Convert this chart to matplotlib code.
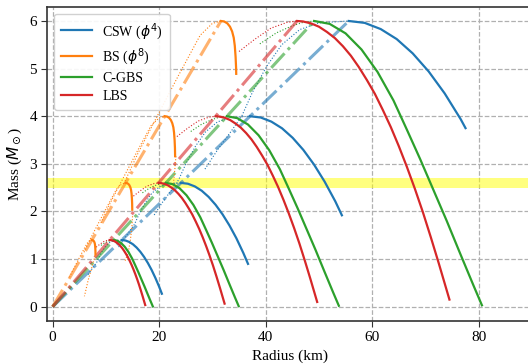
import numpy as np
import matplotlib
matplotlib.use('Agg')
import matplotlib.pyplot as plt

plt.rcParams['font.family'] = ['Liberation Serif', 'DejaVu Serif']
plt.rcParams['mathtext.fontset'] = 'dejavusans'

labels = ['CSW ($\\phi^4$)', 'BS ($\\phi^8$)', 'C-GBS', 'LBS']
colors = ['#1f77b4', '#ff7f0e', '#2ca02c', '#d62728']
mass_scales = [1.4, 2.6, 4.0, 6.0]

csw_R = [55.6, 58.6, 61.6, 64.6, 67.6, 70.6, 73.6, 76.6, 79.6, 82.6, 85.6, 88.0]
csw_M = [6.00, 5.96, 5.83, 5.62, 5.32, 4.94, 4.48, 3.94, 3.32, 2.61, 1.83, 1.14]
bs_R = [31.6, 32.2, 32.8, 33.3, 33.7, 34.0, 34.2, 34.35, 34.45, 34.5]
bs_M = [6.00, 5.99, 5.95, 5.88, 5.78, 5.65, 5.48, 5.25, 5.00, 4.70]
cgbs_R = [49.1, 52.0, 55.0, 58.0, 61.0, 64.0, 66.5, 69.0, 71.5, 74.0, 76.5, 79.0, 80.6]
cgbs_M = [6.00, 5.94, 5.74, 5.40, 4.93, 4.33, 3.72, 3.10, 2.45, 1.80, 1.12, 0.45, 0.03]
lbs_R = [45.9, 47.0, 48.5, 50.0, 51.5, 53.0, 54.5, 56.0, 57.5, 59.0, 60.5, 62.0,
         63.5, 65.0, 66.5, 68.0, 69.5, 71.0, 72.5, 74.5]
lbs_M = [6.00, 5.99, 5.95, 5.88, 5.77, 5.64, 5.47, 5.27, 5.03, 4.76, 4.47, 4.13,
         3.77, 3.37, 2.94, 2.48, 1.99, 1.46, 0.91, 0.15]
# lowest mass reached by each stable branch, as a fraction of its maximum
csw_end = [0.195, 0.346, 0.48, 0.625]
bs_end = [0.78, 0.73, 0.79, 0.815]
cgbs_end = [0.0, 0.0, 0.0, 0.0]
lbs_end = [0.0, 0.0, 0.0, 0.0]

# Thin dotted branches on the small-radius side of the peak (6 Msun family)
csw_dR = [28.6, 31.0, 33.3, 35.5, 37.5, 40.2, 43.0, 46.4, 50.0, 55.6]
csw_dM = [2.89, 3.30, 3.65, 4.00, 4.50, 5.05, 5.50, 5.82, 5.96, 6.00]
bs_dR = [13.6, 16.1, 20.0, 23.6, 27.7, 30.0, 31.6]
bs_dM = [2.64, 3.24, 4.08, 4.85, 5.70, 5.95, 6.00]
cgbs_dR = [38.9, 42.0, 45.0, 47.0, 49.1]
cgbs_dM = [5.52, 5.75, 5.90, 5.97, 6.00]
lbs_dR = [35.0, 38.0, 41.0, 44.0, 45.9]
lbs_dM = [5.36, 5.62, 5.85, 5.97, 6.00]

# Thin dotted tails below the ends of the BS branches (1.4, 2.6, 4.0 Msun)
bs_tail14_R = [7.98, 7.35, 6.7, 5.97]
bs_tail14_M = [1.07, 0.82, 0.57, 0.22]
bs_tail26_R = [15.0, 14.9, 14.6, 14.2, 13.6]
bs_tail26_M = [1.90, 1.70, 1.40, 1.14, 0.96]
bs_tail40_R = [23.15, 23.0, 22.8, 22.6]
bs_tail40_M = [3.16, 2.95, 2.72, 2.50]

stable = [(csw_R, csw_M, csw_end), (bs_R, bs_M, bs_end),
          (cgbs_R, cgbs_M, cgbs_end), (lbs_R, lbs_M, lbs_end)]
dotted = [(csw_dR, csw_dM), (bs_dR, bs_dM), (cgbs_dR, cgbs_dM), (lbs_dR, lbs_dM)]
tails = [(bs_tail14_R, bs_tail14_M), (bs_tail26_R, bs_tail26_M),
         (bs_tail40_R, bs_tail40_M)]

fig = plt.figure(figsize=(5.28, 3.64), dpi=100)
ax = fig.add_axes([47.3 / 528, 43.0 / 364, (532.0 - 47.3) / 528, (357.3 - 43.0) / 364])

ax.axhspan(2.5, 2.7, color='#ffff00', alpha=0.5, lw=0, zorder=1)

for (R, M, ends), (dR, dM), c, lab in zip(stable, dotted, colors, labels):
    R = np.array(R); M = np.array(M)
    dR = np.array(dR); dM = np.array(dM)
    # constant-compactness line through the peaks
    ax.plot([0, R[0]], [0, M[0]], '-.', color=c, lw=2.2, alpha=0.6, zorder=2)
    for k, ms in enumerate(mass_scales):
        s = ms / 6.0
        m_end = max(ends[k] * 6.0, M[-1])
        keep = M > m_end
        r_end = np.interp(m_end, M[::-1], R[::-1])
        xs = np.append(R[keep], r_end) * s
        ys = np.append(M[keep], m_end) * s
        ax.plot(xs, ys, '-', color=c, lw=1.6, zorder=3,
                label=lab if k == 0 else None)
        ax.plot(dR * s, dM * s, ':', color=c, lw=0.8, zorder=2)

for tR, tM in tails:
    ax.plot(tR, tM, ':', color=colors[1], lw=0.8, zorder=2)

ax.set_xlim(-1, 90)
ax.set_ylim(-0.3, 6.3)
ax.set_xticks([0, 20, 40, 60, 80])
ax.set_yticks([0, 1, 2, 3, 4, 5, 6])
ax.grid(True, ls='--', color='#b0b0b0', lw=0.9)
ax.set_axisbelow(True)
for sp in ax.spines.values():
    sp.set_color('#333333')
    sp.set_linewidth(1.2)
ax.tick_params(labelsize=11, length=4, color='#333333')
ax.set_xlabel('Radius (km)', fontsize=11)
ax.set_ylabel('Mass ($M_\\odot$)', fontsize=11)
ax.legend(loc='upper left', fontsize=10, handlelength=2.2, handletextpad=0.75,
          labelspacing=0.35, borderpad=0.5, framealpha=0.9, edgecolor='#cccccc')

fig.savefig('out.png', dpi=100)
